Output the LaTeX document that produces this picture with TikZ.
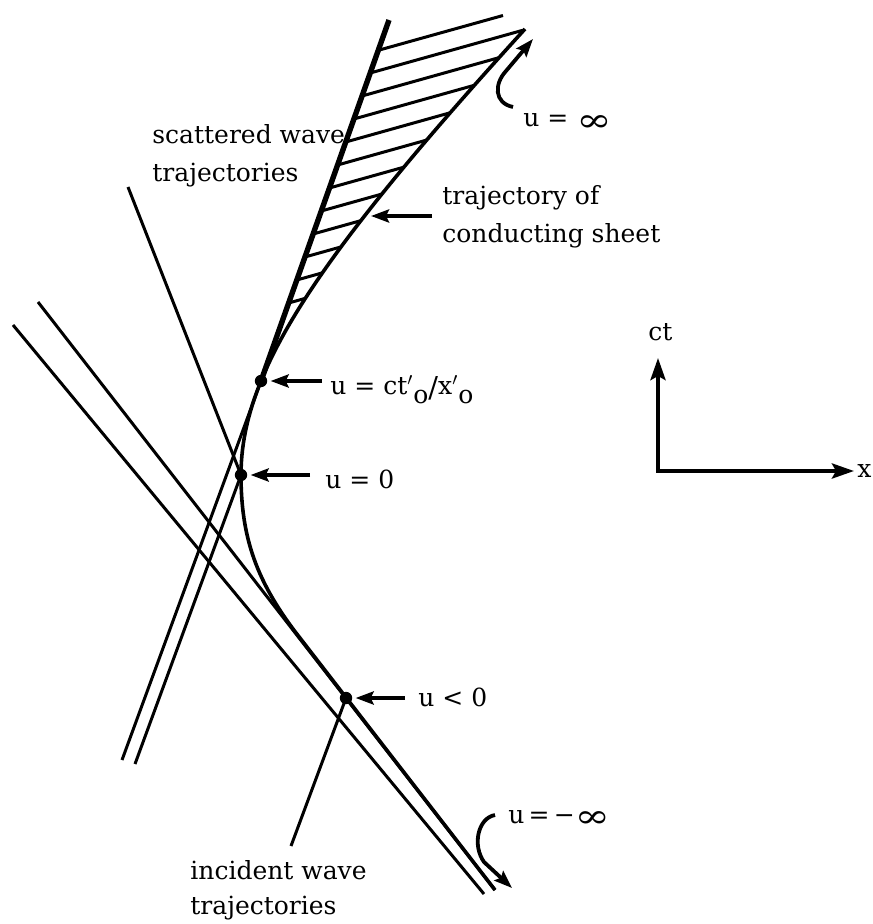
\documentclass[tikz,border=0pt]{standalone}
\usepackage{fontspec}
\setmainfont{DejaVu Serif}
\usetikzlibrary{arrows.meta}
\newcommand{\myinf}{\raisebox{-0.35ex}{\scalebox{1.7}[1.3]{∞}}}
\begin{document}
\begin{tikzpicture}[x=0.5pt,y=-0.5pt,
  lbl/.style={anchor=base west, inner sep=0pt, font=\fontsize{12.5}{19}\selectfont},
  wave/.style={line width=1.5pt},
  sheet/.style={line width=1.8pt},
  bound/.style={line width=2.7pt},
  hatchln/.style={line width=1.5pt},
  ptr/.style={line width=1.9pt, -{Stealth[length=9pt,width=6.5pt,inset=1.5pt]}, shorten >=1.5pt},
  hook/.style={line width=1.9pt, -{Stealth[length=9pt,width=6.5pt,inset=1.5pt]}},
  axis/.style={line width=2pt, {Stealth[length=11pt,width=7.5pt,inset=2pt]}-{Stealth[length=11pt,width=7.5pt,inset=2pt]}},
  dot/.style={circle, fill, inner sep=0pt, minimum size=6.2pt}]
\useasboundingbox (0,0) rectangle (872,924);

% key points
\node[dot] (d1) at (261,381) {};
\node[dot] (d0) at (241,475) {};
\node[dot] (dn) at (346,698) {};
\coordinate (top) at (389,20);
\coordinate (sb1) at (122,760);
\coordinate (sb2) at (135,764);
\coordinate (iaT) at (38,302);
\coordinate (iaB) at (495,890);
\coordinate (ibT) at (13,325);
\coordinate (ibB) at (484,894);

% hatching between tangent line and sheet trajectory
\begin{scope}
\clip plot[domain=29:381, samples=40, variable=\t] ({25.5+100*sqrt(4.644+1.0208*((475-\t)/100)^2)}, \t) -- (top) -- cycle;
\foreach \k in {1,...,11} {
  \pgfmathsetmacro\yy{50+23*\k}
  \pgfmathsetmacro\xx{261+(381-\yy)*0.3546}
  \draw[hatchln] (\xx-10,\yy+2.8) -- ++(230,-64.4);
}
\end{scope}
\draw[hatchln] (379.4,50) -- (503,15.5);

% scattered wave trajectories
\draw[bound] (d1.center) -- (top);
\draw[wave] (sb1) -- (d1.center);
\draw[wave] (sb2) -- (d0.center);

% trajectory of conducting sheet
\draw[sheet] plot[domain=29:475, samples=70, variable=\t] ({25.5+100*sqrt(4.644+1.0208*((475-\t)/100)^2)}, \t)
  .. controls (241,537) and (256,582) .. (300,638) -- (iaB);

% incident wave trajectories
\draw[wave] (iaT) -- (iaB);
\draw[wave] (ibT) -- (ibB);

% labels
\node[lbl] (s1) at (152,144) {scattered wave};
\node[lbl] (s2) at (152,182) {trajectories};
\node[lbl] (c1) at (442,205) {trajectory of};
\node[lbl] (c2) at (442,243) {conducting sheet};
\node[lbl] (i1) at (190,879) {incident wave};
\node[lbl] (i2) at (190,914) {trajectories};
\node[lbl] (uinf) at (523,127) {u = \myinf};
\node[lbl] (uct) at (330,394) {u = ct$'$\raisebox{-0.7ex}{o}\raisebox{-0.3ex}{\Large /}x$'$\raisebox{-0.7ex}{o}};
\node[lbl] (u0) at (325,488) {u = 0};
\node[lbl] (ulo) at (418,706) {u < 0};
\node[lbl] (uminf) at (508,823) {u\,=\,−\myinf};
\node[lbl] (ct) at (648,341) {ct};
\node[lbl] (xx) at (857,477) {x};

% leaders
\coordinate (sl) at (128,187);
\coordinate (il) at (291,846);
\draw[wave] (sl) -- (d0.center);
\draw[wave] (il) -- (dn.center);

% pointer arrows
\coordinate (a1) at (322,381);
\coordinate (a0) at (310,475);
\coordinate (an) at (405,698);
\coordinate (ac) at (432,216);
\coordinate (acE) at (371,216);
\draw[ptr] (a1) -- (d1);
\draw[ptr] (a0) -- (d0);
\draw[ptr] (an) -- (dn);
\draw[hook] (ac) -- (acE);

% u = infinity hooks
\coordinate (h1s) at (513,107);
\coordinate (h1e) at (533,39);
\coordinate (h2s) at (495,815);
\coordinate (h2e) at (512,888);
\draw[hook] (h1s) .. controls (494,103) and (494,84) .. (506,71) -- (h1e);
\draw[hook] (h2s) .. controls (478,818) and (472,845) .. (484,862) -- (h2e);

% axes
\coordinate (O) at (658,471);
\coordinate (Oy) at (658,358);
\coordinate (Ox) at (854,471);
\draw[axis] (Oy) -- (O) -- (Ox);
\end{tikzpicture}
\end{document}
